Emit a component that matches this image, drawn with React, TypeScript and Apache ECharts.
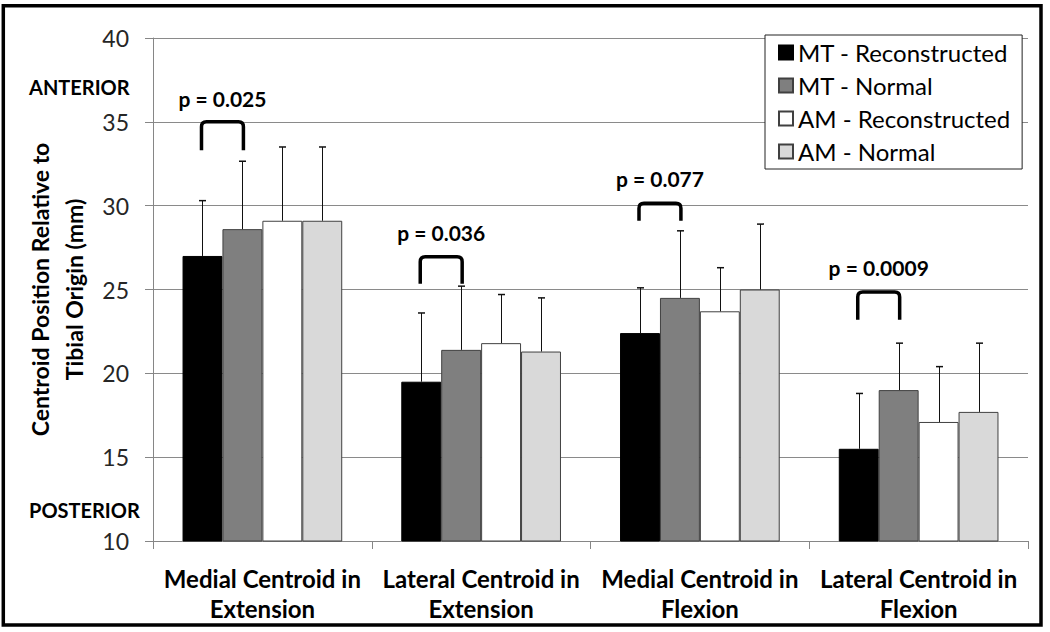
import React, { useEffect, useRef } from "react";
import * as echarts from "echarts";

const categories = [
  "Medial Centroid in\nExtension",
  "Lateral Centroid in\nExtension",
  "Medial Centroid in\nFlexion",
  "Lateral Centroid in\nFlexion",
];
const seriesNames = ["MT - Reconstructed", "MT - Normal", "AM - Reconstructed", "AM - Normal"];
const mtReconstructed = [27.0, 19.5, 22.4, 15.5];
const mtNormal = [28.6, 21.4, 24.5, 19.0];
const amReconstructed = [29.1, 21.8, 23.7, 17.1];
const amNormal = [29.1, 21.3, 25.0, 17.7];
const mtReconstructedErrTop = [30.3, 23.6, 25.1, 18.8];
const mtNormalErrTop = [32.65, 25.2, 28.5, 21.8];
const amReconstructedErrTop = [33.5, 24.7, 26.3, 20.4];
const amNormalErrTop = [33.5, 24.5, 28.9, 21.8];

const pLabels = ["p = 0.025", "p = 0.036", "p = 0.077", "p = 0.0009"];
const bracketTop = [35.0, 26.95, 30.15, 24.85];
const bracketLegBottom = [33.3, 25.35, 29.1, 23.2];
const pLabelY = [36.4, 28.4, 31.6, 26.3];

const yTicks = { min: 10, max: 40, interval: 5 };

const FONT = 'Lato, "Open Sans", sans-serif';
const GAP = 0.27;
const barColors = ["#000000", "#7f7f7f", "#ffffff", "#d9d9d9"];
const barBorders = ["#000000", "#404040", "#404040", "#404040"];

function errorSeries(idx: number, values: number[], tops: number[]) {
  return {
    type: "custom",
    name: seriesNames[idx] + " error",
    z: 5,
    silent: true,
    data: values.map((v, i) => [i, v, tops[i]]),
    encode: { x: 0, y: [1, 2] },
    renderItem: (params: any, api: any) => {
      const c = api.value(0);
      const base = api.coord([c, api.value(1)]);
      const top = api.coord([c, api.value(2)]);
      const band = api.size([1, 0])[0];
      const bw = (band * (1 - GAP)) / 4;
      const x = Math.round(base[0] + (idx - 1.5) * bw) + 0.5;
      return {
        type: "group",
        children: [
          { type: "line", shape: { x1: x, y1: base[1], x2: x, y2: top[1] }, style: { stroke: "#111", lineWidth: 1 } },
          { type: "line", shape: { x1: x - 3.5, y1: top[1], x2: x + 3.5, y2: top[1] }, style: { stroke: "#111", lineWidth: 1.5 } },
        ],
      };
    },
  };
}

export default function App() {
  const ref = useRef<HTMLDivElement>(null);
  useEffect(() => {
    if (!ref.current) return;
    const chart = echarts.init(ref.current, undefined, { renderer: "svg" });
    const values = [mtReconstructed, mtNormal, amReconstructed, amNormal];
    const tops = [mtReconstructedErrTop, mtNormalErrTop, amReconstructedErrTop, amNormalErrTop];
    const bars = values.map((v, i) => ({
      type: "bar",
      name: seriesNames[i],
      data: v,
      barGap: "0%",
      barCategoryGap: GAP * 100 + "%",
      itemStyle: { color: barColors[i], borderColor: barBorders[i], borderWidth: 1 },
      z: 2,
    }));
    const errs = values.map((v, i) => errorSeries(i, v, tops[i]));
    const brackets = {
      type: "custom",
      name: "brackets",
      z: 6,
      silent: true,
      data: pLabels.map((l, i) => [i, bracketTop[i], bracketLegBottom[i], pLabelY[i]]),
      encode: { x: 0, y: [1, 2, 3] },
      renderItem: (params: any, api: any) => {
        const c = api.value(0);
        const top = api.coord([c, api.value(1)]);
        const leg = api.coord([c, api.value(2)]);
        const lab = api.coord([c, api.value(3)]);
        const band = api.size([1, 0])[0];
        const bw = (band * (1 - GAP)) / 4;
        const xl = top[0] - 1.5 * bw - 1;
        const xr = top[0] - 0.5 * bw + 1;
        const yt = top[1];
        const yb = leg[1];
        const r = 5;
        const d = `M${xl},${yb} L${xl},${yt + r} Q${xl},${yt} ${xl + r},${yt} L${xr - r},${yt} Q${xr},${yt} ${xr},${yt + r} L${xr},${yb}`;
        return {
          type: "group",
          children: [
            { type: "path", shape: { pathData: d }, style: { stroke: "#000", lineWidth: 3.5, fill: "none" } },
            {
              type: "text",
              x: (xl + xr) / 2,
              y: lab[1],
              style: {
                text: pLabels[params.dataIndex],
                fill: "#000",
                fontSize: 21,
                fontWeight: "bold",
                fontFamily: FONT,
                align: "center",
                verticalAlign: "middle",
              },
            },
          ],
        };
      },
    };
    chart.setOption({
      animation: false,
      backgroundColor: "#ffffff",
      textStyle: { fontFamily: FONT },
      grid: { left: 153, right: 22, top: 38, bottom: 91, containLabel: false },
      legend: {
        data: seriesNames,
        orient: "vertical",
        left: 765,
        top: 35,
        padding: [1, 12, 1, 13],
        itemGap: 0,
        itemWidth: 14,
        itemHeight: 14,
        icon: "rect",
        backgroundColor: "#ffffff",
        borderColor: "#222",
        borderWidth: 1,
        borderRadius: 0,
        textStyle: { fontSize: 24, color: "#000", fontFamily: FONT, lineHeight: 33 },
        selectedMode: false,
      },
      xAxis: {
        type: "category",
        data: categories,
        axisLine: { lineStyle: { color: "#868686", width: 1 } },
        axisTick: { show: true, length: 8, alignWithLabel: false, lineStyle: { color: "#868686" } },
        axisLabel: {
          interval: 0,
          color: "#000",
          fontSize: 24,
          fontWeight: "bold",
          fontFamily: FONT,
          lineHeight: 30,
          margin: 22,
        },
      },
      yAxis: {
        type: "value",
        min: yTicks.min,
        max: yTicks.max,
        interval: yTicks.interval,
        name: "Centroid Position Relative to\nTibial Origin (mm)",
        nameLocation: "middle",
        nameRotate: 90,
        nameGap: 52,
        nameTextStyle: { fontSize: 23, fontWeight: "bold", color: "#000", fontFamily: FONT, lineHeight: 34 },
        axisLine: { show: true, lineStyle: { color: "#868686", width: 1 } },
        axisTick: { show: true, length: 8, lineStyle: { color: "#868686" } },
        axisLabel: { fontSize: 23, color: "#262626", fontFamily: FONT, margin: 24 },
        splitLine: { show: true, lineStyle: { color: "#8a8a8a", width: 1 } },
      },
      graphic: [
        {
          type: "rect",
          shape: { x: 3.3, y: 5.7, width: 1037.7, height: 619.3 },
          style: { fill: "none", stroke: "#000", lineWidth: 3.5 },
          silent: true,
          z: 100,
        },
        {
          type: "text",
          x: 29,
          y: 87,
          style: { text: "ANTERIOR", fill: "#000", fontSize: 20, fontWeight: "bold", fontFamily: FONT, verticalAlign: "middle" },
        },
        {
          type: "text",
          x: 29,
          y: 510,
          style: { text: "POSTERIOR", fill: "#000", fontSize: 20, fontWeight: "bold", fontFamily: FONT, verticalAlign: "middle" },
        },
      ],
      series: [...bars, ...errs, brackets],
    });
    return () => chart.dispose();
  }, []);
  return <div ref={ref} style={{ position: "absolute", left: 0, top: 0, width: 1050, height: 632 }} />;
}
